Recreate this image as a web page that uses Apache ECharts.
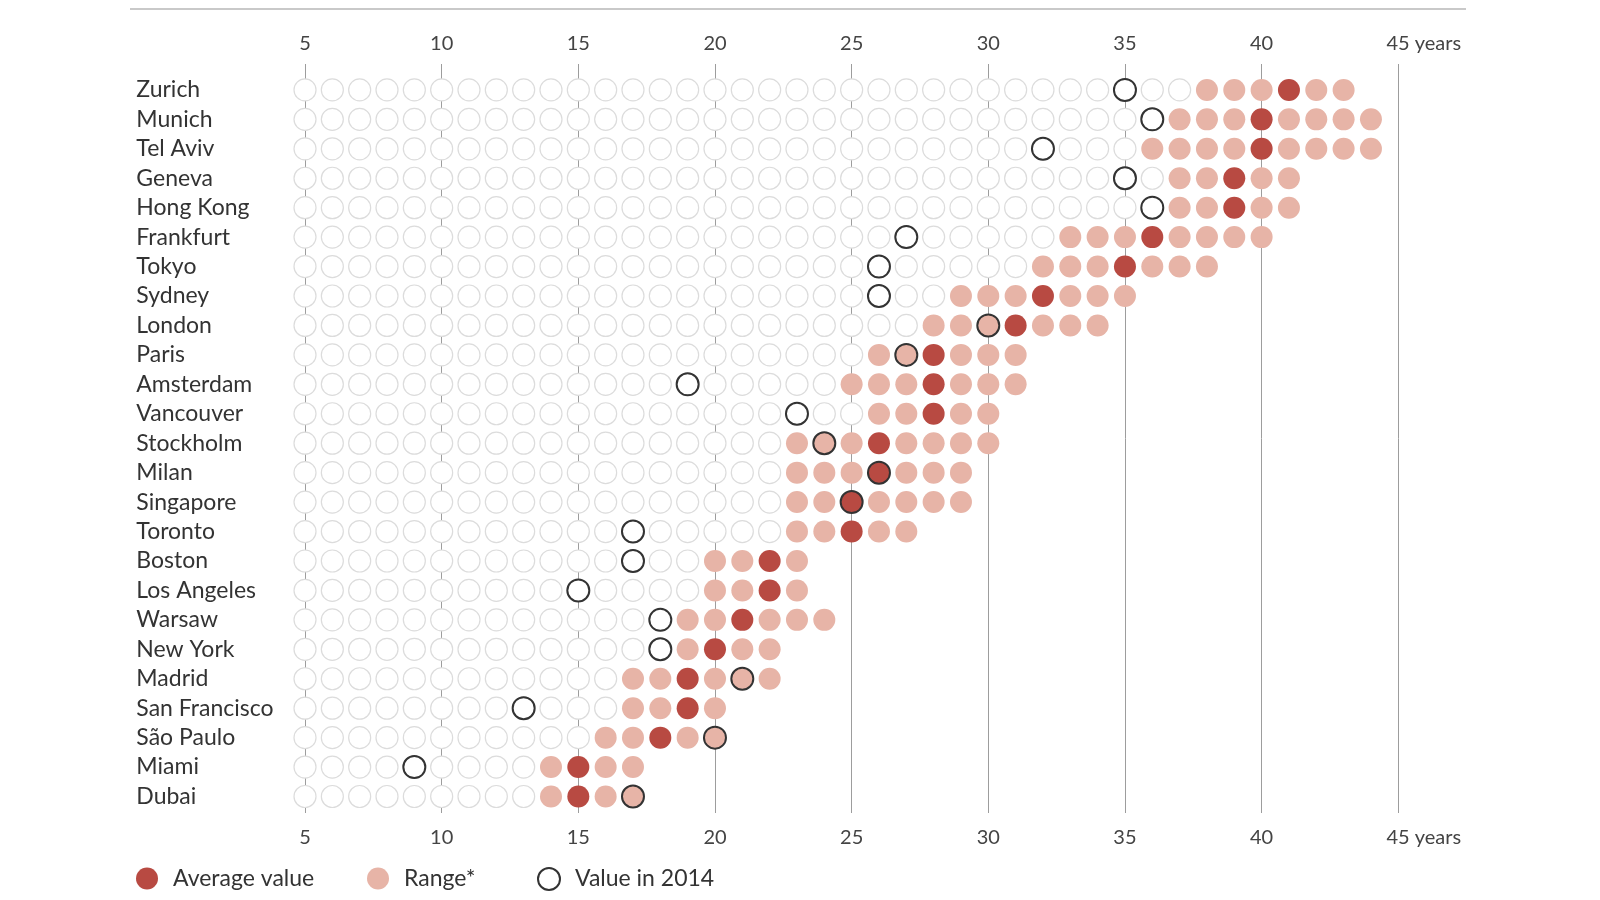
<!DOCTYPE html>
<html>
<head>
<meta charset="utf-8">
<script src="https://cdn.jsdelivr.net/npm/echarts@6/dist/echarts.min.js"></script>
<style>
  html, body { margin: 0; background: #fff; }
  #chart { width: 1600px; height: 900px; }
</style>
</head>
<body>
<div id="chart"></div>
<script>
// years of income needed to buy a flat, per city
const cities = ['Zurich', 'Munich', 'Tel Aviv', 'Geneva', 'Hong Kong', 'Frankfurt', 'Tokyo', 'Sydney',
  'London', 'Paris', 'Amsterdam', 'Vancouver', 'Stockholm', 'Milan', 'Singapore', 'Toronto', 'Boston',
  'Los Angeles', 'Warsaw', 'New York', 'Madrid', 'San Francisco', 'São Paulo', 'Miami', 'Dubai']
const rangeLow = [38, 37, 36, 37, 37, 33, 32, 29, 28, 26, 25, 26, 23, 23, 23, 23, 20, 20, 19, 19, 17, 17, 16, 14, 14]
const rangeHigh = [43, 44, 44, 41, 41, 40, 38, 35, 34, 31, 31, 30, 30, 29, 29, 27, 23, 23, 24, 22, 22, 20, 20, 17, 17]
const average = [41, 40, 40, 39, 39, 36, 35, 32, 31, 28, 28, 28, 26, 26, 25, 25, 22, 22, 21, 20, 19, 19, 18, 15, 15]
const value2014 = [35, 36, 32, 35, 36, 27, 26, 26, 30, 27, 19, 23, 24, 26, 25, 17, 17, 15, 18, 18, 21, 13, 20, 9, 17]
const xTicks = [5, 10, 15, 20, 25, 30, 35, 40, 45]
const firstSlot = 5

const AVG = '#b84a42'
const RANGE = '#e7b4a7'
const FONT = 'Lato'

// build points
let emptyPts = []
let rangePts = []
let avgPts = []
let pts2014 = []
cities.forEach((c, i) => {
  for (let v = firstSlot; v < rangeLow[i]; v++) emptyPts.push([v, i])
  for (let v = rangeLow[i]; v <= rangeHigh[i]; v++) {
    if (v !== average[i]) rangePts.push([v, i])
  }
  avgPts.push([average[i], i])
  pts2014.push([value2014[i], i])
})

let chart = echarts.init(document.getElementById('chart'))

const xLabel = {
  customValues: xTicks,
  color: '#444',
  fontFamily: FONT,
  fontSize: 20,
  formatter: v => (v === 45 ? '{pad|}45 years' : String(v)),
  rich: { pad: { width: 51 } }
}

chart.setOption({
  animation: false,
  textStyle: { fontFamily: FONT },
  graphic: [{
    type: 'line',
    shape: { x1: 130, y1: 9, x2: 1466, y2: 9 },
    style: { stroke: '#c9c9c9', lineWidth: 2 }
  }],
  grid: { left: 168.35, right: 174.4, top: 64, bottom: 87, outerBoundsMode: 'none' },
  legend: [
    { data: ['Average value'], left: 131, top: 862 },
    { data: ['Range*'], left: 362, top: 862 },
    { data: ['Value in 2014'], left: 532, top: 862 }
  ].map(l => Object.assign(l, {
    itemWidth: 42,
    itemHeight: 22,
    textStyle: { fontSize: 23, color: '#333', fontFamily: FONT }
  })),
  xAxis: [
    {
      type: 'value', position: 'top', min: 0, max: 46,
      axisLine: { show: false }, axisTick: { show: false }, splitLine: { show: false },
      axisLabel: Object.assign({ margin: 10 }, xLabel)
    },
    {
      type: 'value', position: 'bottom', min: 0, max: 46,
      axisLine: { show: false }, axisTick: { show: false }, splitLine: { show: false },
      axisLabel: Object.assign({ margin: 15 }, xLabel)
    }
  ],
  yAxis: {
    type: 'value', inverse: true, min: -0.88, max: 24.56,
    axisLine: { show: false }, axisTick: { show: false }, splitLine: { show: false },
    axisLabel: {
      customValues: cities.map((c, i) => i),
      formatter: v => cities[v] || '',
      align: 'left',
      margin: 32,
      fontSize: 23,
      color: '#333',
      fontFamily: FONT
    }
  },
  series: [
    {
      name: 'lines',
      type: 'scatter',
      data: [],
      z: 0,
      markLine: {
        z: 0,
        silent: true,
        symbol: ['none', 'none'],
        label: { show: false },
        lineStyle: { color: '#9d9d9d', width: 1, type: 'solid' },
        data: xTicks.map(v => ({ xAxis: v }))
      }
    },
    {
      name: 'empty',
      type: 'scatter',
      z: 1,
      symbolSize: 22,
      silent: true,
      itemStyle: { color: '#fff', borderColor: '#dcdcdc', borderWidth: 1.2, opacity: 1 },
      data: emptyPts
    },
    {
      name: 'Range*',
      type: 'scatter',
      z: 2,
      symbolSize: 22,
      itemStyle: { color: RANGE, opacity: 1 },
      data: rangePts
    },
    {
      name: 'Average value',
      type: 'scatter',
      z: 3,
      symbolSize: 22,
      itemStyle: { color: AVG, opacity: 1 },
      data: avgPts
    },
    {
      name: 'Value in 2014',
      type: 'scatter',
      z: 4,
      symbolSize: 22,
      itemStyle: { color: 'rgba(255,255,255,0)', borderColor: '#333', borderWidth: 2, opacity: 1 },
      data: pts2014
    }
  ]
})
</script>
</body>
</html>
